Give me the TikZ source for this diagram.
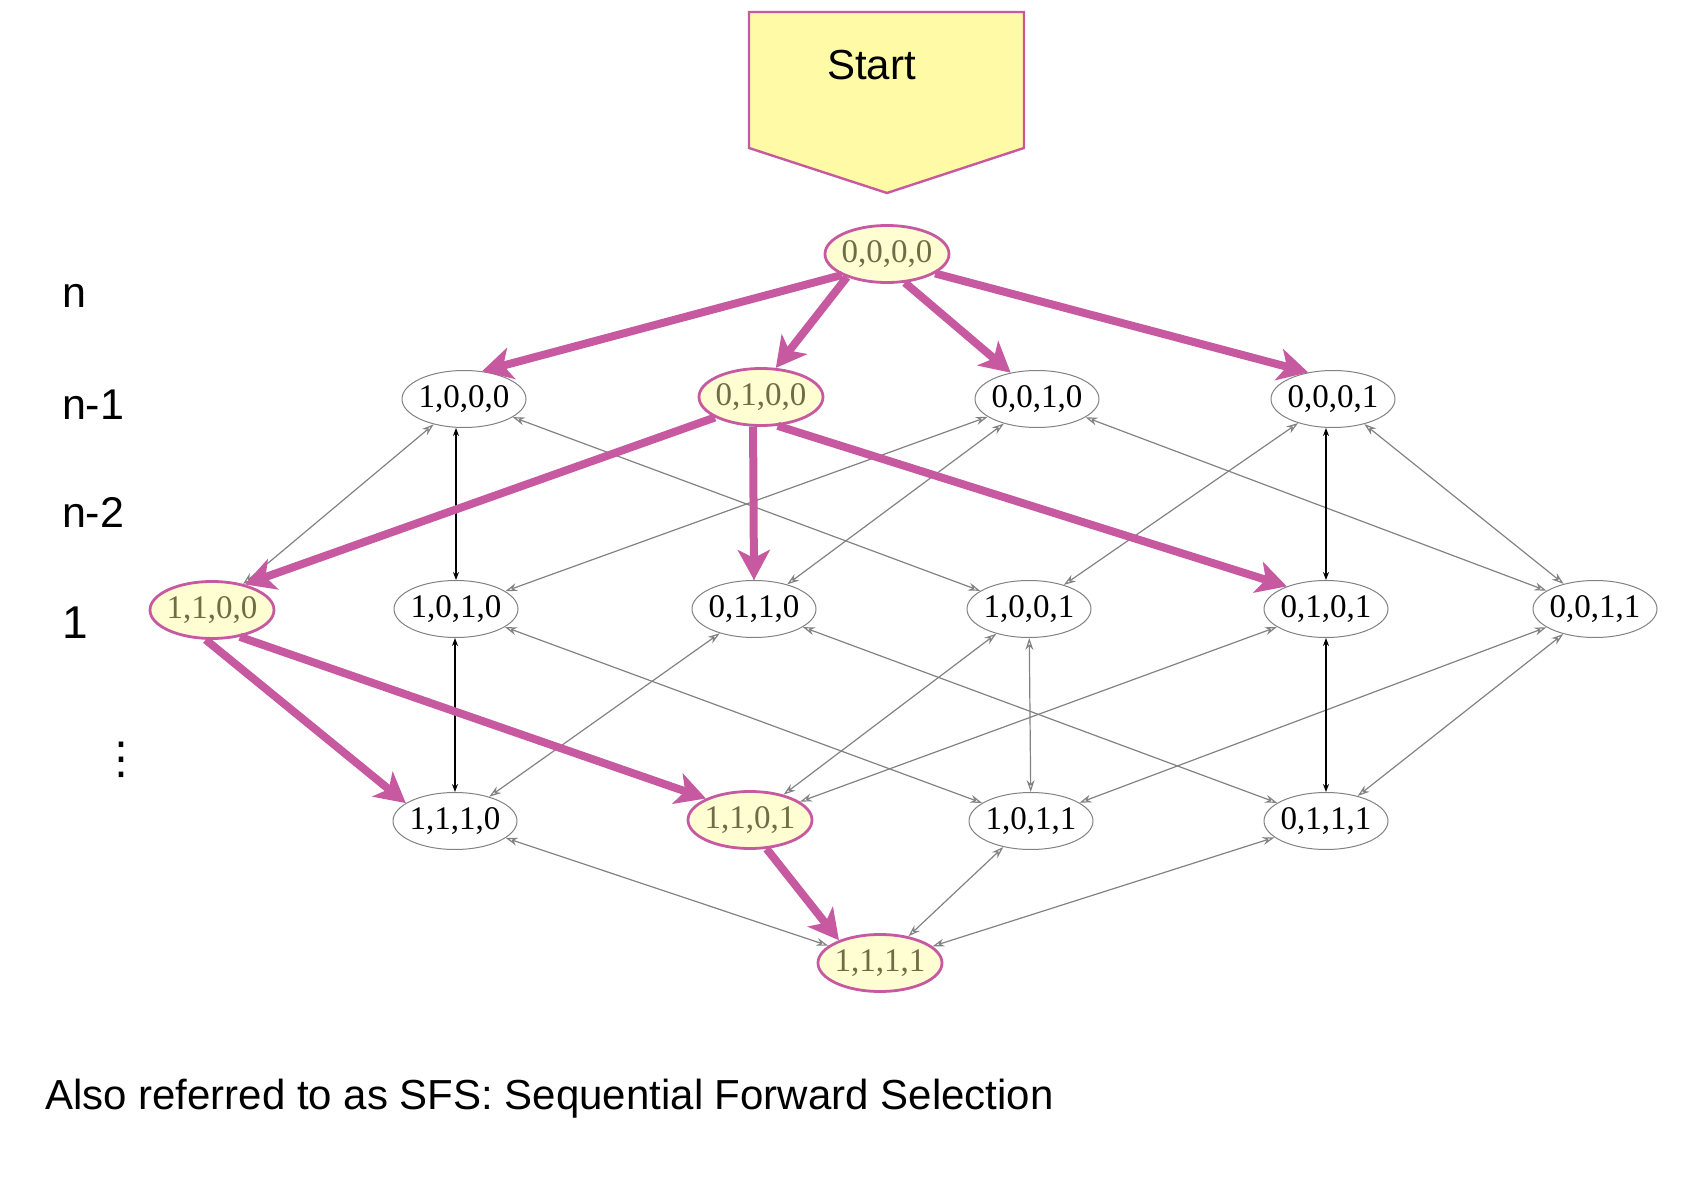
\documentclass[tikz,border=0pt]{standalone}
\usepackage{fontspec}
\setmainfont{Liberation Serif}
\setsansfont{Liberation Sans}
\newfontfamily\symfont{DejaVu Sans}
\usepackage{tikz}
\usetikzlibrary{shapes.geometric, arrows.meta, positioning}
\definecolor{sfspink}{RGB}{199,89,160}
\definecolor{startfill}{RGB}{255,250,165}
\definecolor{hlfill}{RGB}{255,253,210}
\definecolor{hltext}{RGB}{110,110,70}
\definecolor{edgegray}{RGB}{130,130,130}
\tikzset{
  subset/.style={ellipse, draw=edgegray, fill=white, line width=0.5pt,
    minimum width=62pt, minimum height=28.5pt, inner xsep=-3pt, inner ysep=0pt,
    font=\fontsize{16.5}{18}\selectfont},
  visited/.style={subset, draw=sfspink, fill=hlfill, line width=1.4pt, text=hltext},
  link/.style={{Stealth[open, length=6pt, width=4pt]}-{Stealth[open, length=6pt, width=4pt]},
    line width=0.6pt, color=edgegray},
  vlink/.style={{Stealth[length=4pt, width=3pt]}-{Stealth[length=4pt, width=3pt]},
    line width=0.9pt, color=black},
  search/.style={-{Stealth[length=15pt, width=16pt, inset=4pt]}, line width=4pt, color=sfspink},
  level/.style={font=\sffamily\fontsize{21.5}{24}\selectfont, anchor=base west}
}

\begin{document}
\begin{tikzpicture}[x=0.5pt, y=-0.5pt]
  \useasboundingbox (0,0) rectangle (1694,1198);

  % Start marker
  \draw[draw=sfspink, fill=startfill, line width=1.2pt]
    (749,12) -- (1024,12) -- (1024,148) -- (887,193) -- (749,148) -- cycle;
  \node[font=\sffamily\fontsize{21}{24}\selectfont, anchor=base west] (start) at (820,80) {Start};

  % Levels
  \node[level] (lvn) at (55,308) {n};
  \node[level] (lvn1) at (55,420) {n-1};
  \node[level] (lvn2) at (55,528) {n-2};
  \node[level, font=\sffamily\fontsize{23}{26}\selectfont] (lvone) at (55,639) {1};
  \node[font=\symfont\fontsize{22}{24}\selectfont] (lvdots) at (121,760) {⋮};

  % Subsets
  \node[visited] (s0000) at (887,254) {0,0,0,0};

  \node[subset] (s1000) at (464,399) {1,0,0,0};
  \node[visited] (s0100) at (761,397) {0,1,0,0};
  \node[subset] (s0010) at (1037,399) {0,0,1,0};
  \node[subset] (s0001) at (1333,399) {0,0,0,1};

  \node[visited] (s1100) at (212,610) {1,1,0,0};
  \node[subset] (s1010) at (456,609) {1,0,1,0};
  \node[subset] (s0110) at (754,609) {0,1,1,0};
  \node[subset] (s1001) at (1029,609) {1,0,0,1};
  \node[subset] (s0101) at (1326,609) {0,1,0,1};
  \node[subset] (s0011) at (1595,609) {0,0,1,1};

  \node[subset] (s1110) at (455,821) {1,1,1,0};
  \node[visited] (s1101) at (750,820) {1,1,0,1};
  \node[subset] (s1011) at (1031,821) {1,0,1,1};
  \node[subset] (s0111) at (1326,821) {0,1,1,1};

  \node[visited] (s1111) at (880,963) {1,1,1,1};

  % Lattice
  \foreach \a/\b in {s1000/s1100, s1000/s1001,
                     s0010/s1010, s0010/s0110, s0010/s0011, s0001/s1001, s0001/s0011,
                     s1010/s1011, s0110/s1110, s0110/s0111,
                     s1001/s1101, s0101/s1101, s0011/s1011, s0011/s0111,
                     s1110/s1111, s1011/s1111, s0111/s1111}
    \draw[link] (\a) -- (\b);
  \draw[link] (s1001) -- (s1011);
  \foreach \a/\b in {s1000/s1010, s0100/s0110, s0001/s0101, s1010/s1110, s0101/s0111}
    \draw[vlink] (\a.south -| \b) -- (\b);

  % Forward search path
  \foreach \a/\b in {s0000.205/s1000.57, s0000.210/s0100.63, s0000.302/s0010.135,
                     s0000.338/s0001.133, s0100.204/s1100.38, s0100.255/s0110.90,
                     s0100.300/s0101.150, s1100.258/s1110.160, s1100.316/s1101.154,
                     s1101.300/s1111.151}
    \draw[search] (\a) -- (\b);

  \node[font=\sffamily\fontsize{21}{24}\selectfont, anchor=base west] (note) at (38,1109)
    {Also referred to as SFS: Sequential Forward Selection};
\end{tikzpicture}
\end{document}
